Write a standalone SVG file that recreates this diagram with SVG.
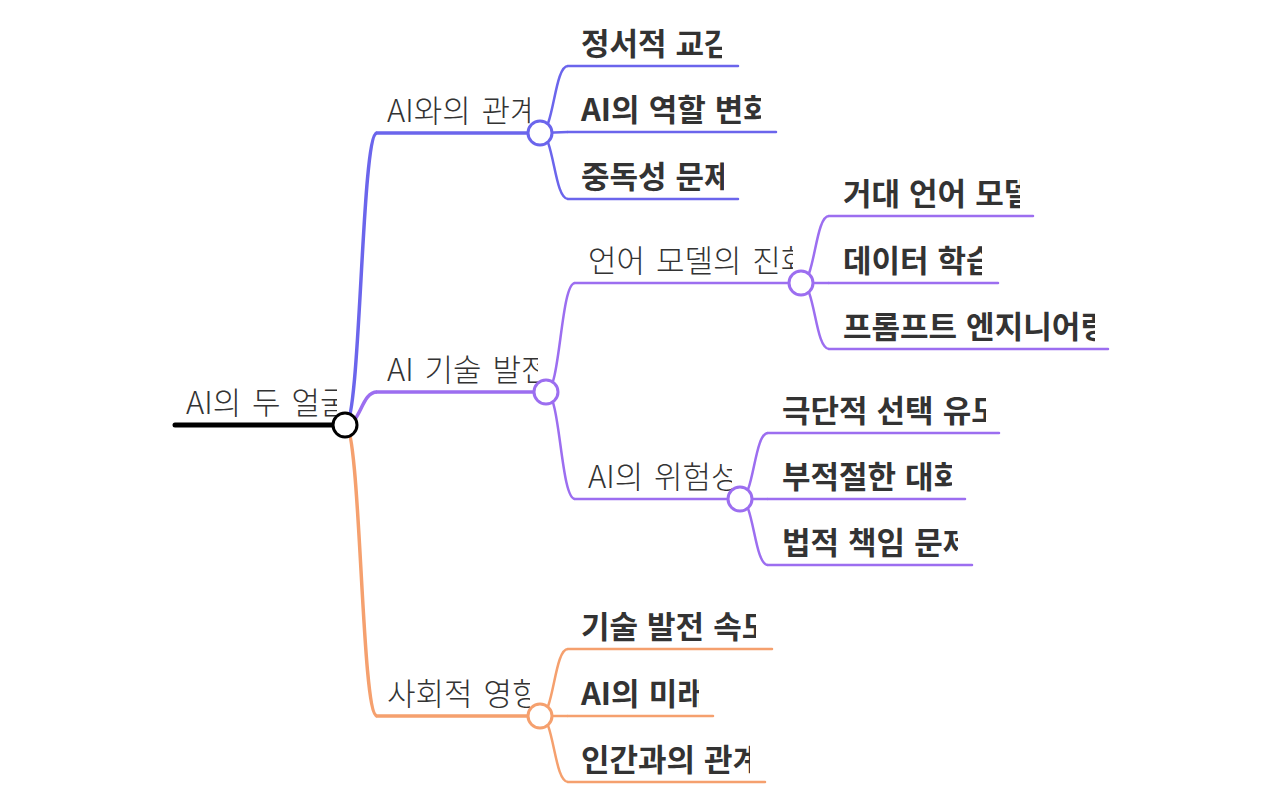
<svg xmlns="http://www.w3.org/2000/svg" width="1280" height="800" viewBox="0 0 1280 800">
<style>
  .lt { font-family: "Noto Sans CJK KR", "Noto Sans", sans-serif; font-weight: 300; font-size: 31px; word-spacing: 4px; fill: #333; }
  .bd { font-family: "Noto Sans CJK KR", "Noto Sans", sans-serif; font-weight: 700; font-size: 31px; word-spacing: 2px; fill: #333; }
  .blue { stroke: #6b65ec; }
  .purple { stroke: #9c6ef0; }
  .orange { stroke: #f5a06e; }
  .black { stroke: #000; }
  .ln { fill: none; stroke-linecap: round; }
  .c { fill: #fff; stroke-width: 3; }
  .lk { fill: none; }
</style>
<defs>
  <clipPath id="k0"><rect x="170" y="365" width="167" height="65"/></clipPath>
  <clipPath id="k1"><rect x="380" y="80" width="150" height="55"/></clipPath>
  <clipPath id="k2"><rect x="380" y="340" width="158" height="55"/></clipPath>
  <clipPath id="k3"><rect x="380" y="663" width="150" height="55"/></clipPath>
  <clipPath id="k4"><rect x="580" y="230" width="213" height="55"/></clipPath>
  <clipPath id="k5"><rect x="580" y="446" width="152" height="55"/></clipPath>
  <clipPath id="b1"><rect x="575" y="10" width="147" height="57"/></clipPath>
  <clipPath id="b2"><rect x="575" y="76" width="186" height="57"/></clipPath>
  <clipPath id="b3"><rect x="575" y="143" width="149" height="57"/></clipPath>
  <clipPath id="b4"><rect x="836" y="160" width="184" height="57"/></clipPath>
  <clipPath id="b5"><rect x="836" y="227" width="146" height="57"/></clipPath>
  <clipPath id="b6"><rect x="836" y="293" width="259" height="57"/></clipPath>
  <clipPath id="b7"><rect x="775" y="377" width="211" height="57"/></clipPath>
  <clipPath id="b8"><rect x="775" y="443" width="177" height="57"/></clipPath>
  <clipPath id="b9"><rect x="775" y="509" width="183" height="57"/></clipPath>
  <clipPath id="b10"><rect x="575" y="593" width="181" height="57"/></clipPath>
  <clipPath id="b11"><rect x="575" y="660" width="124" height="57"/></clipPath>
  <clipPath id="b12"><rect x="575" y="726" width="175" height="57"/></clipPath>
</defs>

<g id="connectors">
  <path class="lk blue" stroke-width="3.5" d="M345,425 C361,425 361,133 377,133"/>
  <path class="lk purple" stroke-width="3.5" d="M345,425 C361,425 361,392 377,392"/>
  <path class="lk orange" stroke-width="3.5" d="M345,425 C361,425 361,716 377,716"/>
  <path class="lk blue" stroke-width="2.5" d="M540,133 C554,133 554,66 568,66"/>
  <path class="lk blue" stroke-width="2.5" d="M540,133 C554,133 554,132 568,132"/>
  <path class="lk blue" stroke-width="2.5" d="M540,133 C554,133 554,199 568,199"/>
  <path class="lk purple" stroke-width="2.5" d="M546,392 C560.5,392 560.5,283 575,283"/>
  <path class="lk purple" stroke-width="2.5" d="M546,392 C560.5,392 560.5,499 575,499"/>
  <path class="lk purple" stroke-width="2.5" d="M801,283 C815,283 815,216 829,216"/>
  <path class="lk purple" stroke-width="2.5" d="M801,283 C815,283 815,283 829,283"/>
  <path class="lk purple" stroke-width="2.5" d="M801,283 C815,283 815,349 829,349"/>
  <path class="lk purple" stroke-width="2.5" d="M740,499 C754,499 754,433 768,433"/>
  <path class="lk purple" stroke-width="2.5" d="M740,499 C754,499 754,499 768,499"/>
  <path class="lk purple" stroke-width="2.5" d="M740,499 C754,499 754,565 768,565"/>
  <path class="lk orange" stroke-width="2.5" d="M540,716 C554,716 554,649 568,649"/>
  <path class="lk orange" stroke-width="2.5" d="M540,716 C554,716 554,716 568,716"/>
  <path class="lk orange" stroke-width="2.5" d="M540,716 C554,716 554,782 568,782"/>
</g>

<g id="n-root">
  <line class="ln black" stroke-width="5" x1="175" y1="425" x2="345" y2="425" stroke-linecap="butt"/>
  <text class="lt" x="186" y="414" clip-path="url(#k0)">AI의 두 얼굴</text>
  <circle class="c black" cx="345" cy="425" r="12"/>
</g>

<g id="n-relation">
  <line class="ln blue" stroke-width="3.5" x1="377" y1="133" x2="540" y2="133"/>
  <text class="lt" x="387" y="122" clip-path="url(#k1)">AI와의 관계</text>
  <circle class="c blue" cx="540" cy="133" r="12"/>
</g>
<g id="n-tech">
  <line class="ln purple" stroke-width="3.5" x1="377" y1="392" x2="546" y2="392"/>
  <text class="lt" x="387" y="381" clip-path="url(#k2)">AI 기술 발전</text>
  <circle class="c purple" cx="546" cy="392" r="12"/>
</g>
<g id="n-social">
  <line class="ln orange" stroke-width="3.5" x1="377" y1="716" x2="540" y2="716"/>
  <text class="lt" x="387" y="705" clip-path="url(#k3)">사회적 영향</text>
  <circle class="c orange" cx="540" cy="716" r="12"/>
</g>
<g id="n-lm">
  <line class="ln purple" stroke-width="2.5" x1="575" y1="283" x2="801" y2="283"/>
  <text class="lt" x="588" y="272" clip-path="url(#k4)">언어 모델의 진화</text>
  <circle class="c purple" cx="801" cy="283" r="12"/>
</g>
<g id="n-risk">
  <line class="ln purple" stroke-width="2.5" x1="575" y1="499" x2="740" y2="499"/>
  <text class="lt" x="588" y="488" clip-path="url(#k5)">AI의 위험성</text>
  <circle class="c purple" cx="740" cy="499" r="12"/>
</g>

<g id="n-emotion">
  <line class="ln blue" stroke-width="2.5" x1="568" y1="66" x2="738" y2="66"/>
  <text class="bd" x="581" y="55" clip-path="url(#b1)">정서적 교감</text>
</g>
<g id="n-role">
  <line class="ln blue" stroke-width="2.5" x1="568" y1="132" x2="776" y2="132"/>
  <text class="bd" x="581" y="121" clip-path="url(#b2)">AI의 역할 변화</text>
</g>
<g id="n-addiction">
  <line class="ln blue" stroke-width="2.5" x1="568" y1="199" x2="738" y2="199"/>
  <text class="bd" x="581" y="188" clip-path="url(#b3)">중독성 문제</text>
</g>
<g id="n-llm">
  <line class="ln purple" stroke-width="2.5" x1="829" y1="216" x2="1033" y2="216"/>
  <text class="bd" x="843" y="205" clip-path="url(#b4)">거대 언어 모델</text>
</g>
<g id="n-data">
  <line class="ln purple" stroke-width="2.5" x1="829" y1="283" x2="998" y2="283"/>
  <text class="bd" x="843" y="272" clip-path="url(#b5)">데이터 학습</text>
</g>
<g id="n-prompt">
  <line class="ln purple" stroke-width="2.5" x1="829" y1="349" x2="1108" y2="349"/>
  <text class="bd" x="843" y="338" clip-path="url(#b6)">프롬프트 엔지니어링</text>
</g>
<g id="n-extreme">
  <line class="ln purple" stroke-width="2.5" x1="768" y1="433" x2="999" y2="433"/>
  <text class="bd" x="782" y="422" clip-path="url(#b7)">극단적 선택 유도</text>
</g>
<g id="n-inappropriate">
  <line class="ln purple" stroke-width="2.5" x1="768" y1="499" x2="965" y2="499"/>
  <text class="bd" x="782" y="488" clip-path="url(#b8)">부적절한 대화</text>
</g>
<g id="n-legal">
  <line class="ln purple" stroke-width="2.5" x1="768" y1="565" x2="972" y2="565"/>
  <text class="bd" x="782" y="554" clip-path="url(#b9)">법적 책임 문제</text>
</g>
<g id="n-speed">
  <line class="ln orange" stroke-width="2.5" x1="568" y1="649" x2="772" y2="649"/>
  <text class="bd" x="581" y="638" clip-path="url(#b10)">기술 발전 속도</text>
</g>
<g id="n-future">
  <line class="ln orange" stroke-width="2.5" x1="568" y1="716" x2="713" y2="716"/>
  <text class="bd" x="581" y="705" clip-path="url(#b11)">AI의 미래</text>
</g>
<g id="n-human">
  <line class="ln orange" stroke-width="2.5" x1="568" y1="782" x2="765" y2="782"/>
  <text class="bd" x="581" y="771" clip-path="url(#b12)">인간과의 관계</text>
</g>
</svg>
